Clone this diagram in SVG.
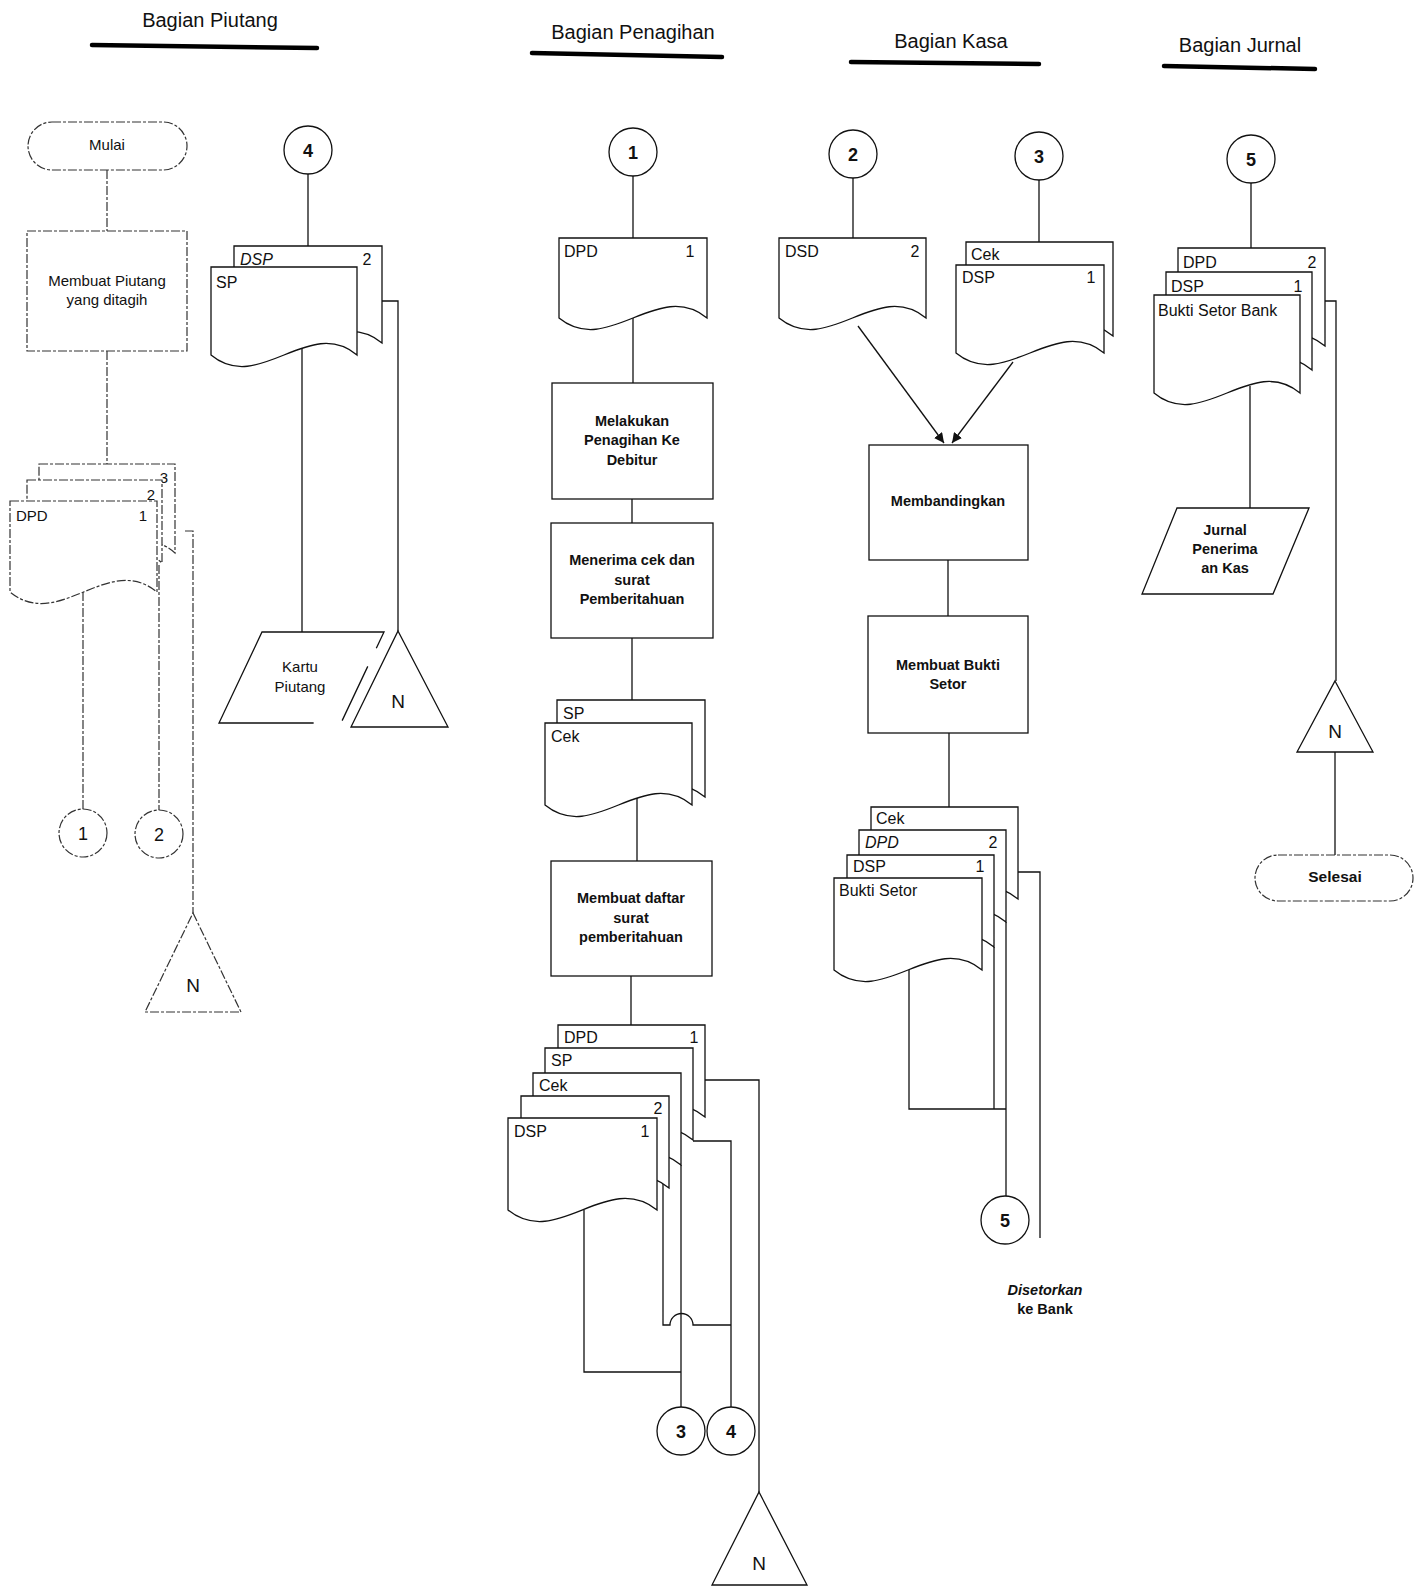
<svg xmlns="http://www.w3.org/2000/svg" width="1423" height="1591" viewBox="0 0 1423 1591">
<style>
.s{fill:#fff;stroke:#111;stroke-width:1.3}
.f{fill:#fff;stroke:#333;stroke-width:1.2;stroke-dasharray:9 2 3 2}
.c{fill:none;stroke:#111;stroke-width:1.3}
.cf{fill:none;stroke:#333;stroke-width:1.2;stroke-dasharray:9 2 3 2}
.h{fill:none;stroke:#000;stroke-width:4.5;stroke-linecap:round}
text{font-family:"Liberation Sans",Arial,sans-serif;fill:#111}
.t{font-size:20px}
.l{font-size:16px}
.b{font-size:14.5px;font-weight:bold;text-anchor:middle}
.r{font-size:15px;text-anchor:middle}
.n{font-size:18px;font-weight:bold;text-anchor:middle}
.m{text-anchor:middle}
</style>
<defs>
<marker id="ah" viewBox="0 0 10 10" refX="10" refY="5" markerWidth="10" markerHeight="10" markerUnits="userSpaceOnUse" orient="auto">
<path d="M0,0 L10,5 L0,10 Z" fill="#111"/>
</marker>
</defs>

<g id="headers">
<text class="t m" x="210" y="27">Bagian Piutang</text>
<path class="h" d="M92,45 L317,48"/>
<text class="t m" x="633" y="39">Bagian Penagihan</text>
<path class="h" d="M532,53 L722,57"/>
<text class="t m" x="951" y="48">Bagian Kasa</text>
<path class="h" d="M851,62 L1039,64"/>
<text class="t m" x="1240" y="52">Bagian Jurnal</text>
<path class="h" d="M1164,66 L1315,69"/>
</g>

<g id="connectors">
<!-- column 1 -->
<path class="cf" d="M107,170 V231"/>
<path class="cf" d="M107,351 V464"/>
<path class="cf" d="M83,592 V809"/>
<path class="cf" d="M159,565 V810"/>
<path class="cf" d="M185,531 H193 V913"/>
<path class="c" d="M308,174 V246"/>
<path class="c" d="M302,348 V632"/>
<path class="c" d="M382,301 H398 V631"/>
<!-- column 2 -->
<path class="c" d="M633,176 V238"/>
<path class="c" d="M633,318 V383"/>
<path class="c" d="M632,499 V523"/>
<path class="c" d="M632,638 V700"/>
<path class="c" d="M637,798 V861"/>
<path class="c" d="M631,976 V1025"/>
<path class="c" d="M705,1080 H759 V1492"/>
<path class="c" d="M693,1141 H731 V1407"/>
<path class="c" d="M681,1165 V1407"/>
<path class="c" d="M663,1184 V1325 H670 A11.5,11.5 0 0 1 693,1325 H731"/>
<path class="c" d="M584,1210 V1372 H681"/>
<!-- column 3 -->
<path class="c" d="M853,178 V238"/>
<path class="c" d="M1039,180 V242"/>
<path class="c" d="M858,326 L944,443" marker-end="url(#ah)"/>
<path class="c" d="M1013,362 L952,443" marker-end="url(#ah)"/>
<path class="c" d="M948,560 V616"/>
<path class="c" d="M949,733 V807"/>
<path class="c" d="M1018,872 H1040 V1238"/>
<path class="c" d="M1006,922 V1196"/>
<path class="c" d="M994,947 V1109"/>
<path class="c" d="M909,970 V1109 H1006"/>
<!-- column 4 -->
<path class="c" d="M1251,183 V248"/>
<path class="c" d="M1325,301 H1336 V681"/>
<path class="c" d="M1250,386 V508"/>
<path class="c" d="M1335,752 V855"/>
</g>

<g id="mulai">
<rect class="f" x="28" y="122" width="159" height="48" rx="24"/>
<text class="r" x="107" y="150">Mulai</text>
</g>
<g id="membuat-piutang">
<rect class="f" x="27" y="231" width="160" height="120"/>
<text class="r" x="107" y="286">Membuat Piutang</text>
<text class="r" x="107" y="305">yang ditagih</text>
</g>
<g id="dpd-stack-piutang">
<path class="f" d="M39,464 H175 V553 C130,513 84,593 39,553 Z"/>
<text class="r" x="164" y="483">3</text>
<path class="f" d="M27,480 H162 V563 C117,523 72,603 27,563 Z"/>
<text class="r" x="151" y="500">2</text>
<path class="f" d="M10,501 H157 V592 C108,552 59,632 10,592 Z"/>
<text style="font-size:15px" x="16" y="521">DPD</text>
<text class="r" x="143" y="521">1</text>
</g>
<g id="off-1a">
<ellipse class="f" cx="83" cy="833" rx="24" ry="24"/>
<text class="r" style="font-size:18px" x="83" y="840">1</text>
</g>
<g id="off-2a">
<ellipse class="f" cx="159" cy="834" rx="24" ry="24"/>
<text class="r" style="font-size:18px" x="159" y="841">2</text>
</g>
<g id="n-piutang-1">
<path class="f" d="M193,913 L241,1012 H145 Z"/>
<text class="r" style="font-size:19px" x="193" y="992">N</text>
</g>

<g id="off-4a">
<ellipse class="s" cx="308" cy="150" rx="24" ry="24"/>
<text class="n" x="308" y="157">4</text>
</g>
<g id="dsp-sp-stack">
<path class="s" d="M234,246 H382 V343 C333,303 283,383 234,343 Z"/>
<text class="l" style="font-style:italic" x="240" y="265">DSP</text>
<text class="l m" x="367" y="265">2</text>
<path class="s" d="M211,267 H357 V355 C309,315 259,395 211,355 Z"/>
<text class="l" x="216" y="288">SP</text>
</g>
<g id="kartu-piutang">
<path class="s" d="M262,632 H384 L341,723 H219 Z" style="stroke-dasharray:140 20 60 30 200"/>
<text class="r" x="300" y="672">Kartu</text>
<text class="r" x="300" y="692">Piutang</text>
</g>
<g id="n-piutang-2">
<path class="s" d="M398,631 L448,727 H351 Z"/>
<text class="r" style="font-size:19px" x="398" y="708">N</text>
</g>

<g id="off-1b">
<ellipse class="s" cx="633" cy="152" rx="24" ry="24"/>
<text class="n" x="633" y="159">1</text>
</g>
<g id="dpd-penagihan">
<path class="s" d="M559,238 H707 V318 C658,278 608,358 559,318 Z"/>
<text class="l" x="564" y="257">DPD</text>
<text class="l m" x="690" y="257">1</text>
</g>
<g id="melakukan-penagihan">
<rect class="s" x="552" y="383" width="161" height="116"/>
<text class="b" x="632" y="426">Melakukan</text>
<text class="b" x="632" y="445">Penagihan Ke</text>
<text class="b" x="632" y="465">Debitur</text>
</g>
<g id="menerima-cek">
<rect class="s" x="551" y="523" width="162" height="115"/>
<text class="b" x="632" y="565">Menerima cek dan</text>
<text class="b" x="632" y="585">surat</text>
<text class="b" x="632" y="604">Pemberitahuan</text>
</g>
<g id="sp-cek-stack">
<path class="s" d="M557,700 H705 V797 C656,757 606,837 557,797 Z"/>
<text class="l" x="563" y="719">SP</text>
<path class="s" d="M545,723 H692 V805 C643,765 594,845 545,805 Z"/>
<text class="l" x="551" y="742">Cek</text>
</g>
<g id="membuat-daftar">
<rect class="s" x="551" y="861" width="161" height="115"/>
<text class="b" x="631" y="903">Membuat daftar</text>
<text class="b" x="631" y="923">surat</text>
<text class="b" x="631" y="942">pemberitahuan</text>
</g>
<g id="five-stack">
<path class="s" d="M558,1025 H705 V1117 C656,1077 607,1157 558,1117 Z"/>
<text class="l" x="564" y="1043">DPD</text>
<text class="l m" x="694" y="1043">1</text>
<path class="s" d="M545,1048 H693 V1140 C644,1100 594,1180 545,1140 Z"/>
<text class="l" x="551" y="1066">SP</text>
<path class="s" d="M533,1073 H681 V1165 C632,1125 582,1205 533,1165 Z"/>
<text class="l" x="539" y="1091">Cek</text>
<path class="s" d="M521,1096 H669 V1188 C620,1148 570,1228 521,1188 Z"/>
<text class="l m" x="658" y="1114">2</text>
<path class="s" d="M508,1118 H657 V1210 C607,1170 557,1250 508,1210 Z"/>
<text class="l" x="514" y="1137">DSP</text>
<text class="l m" x="645" y="1137">1</text>
</g>
<g id="off-3a">
<ellipse class="s" cx="681" cy="1431" rx="24" ry="24"/>
<text class="n" x="681" y="1438">3</text>
</g>
<g id="off-4b">
<ellipse class="s" cx="731" cy="1431" rx="24" ry="24"/>
<text class="n" x="731" y="1438">4</text>
</g>
<g id="n-penagihan">
<path class="s" d="M759,1492 L807,1585 H712 Z"/>
<text class="r" style="font-size:19px" x="759" y="1570">N</text>
</g>

<g id="off-2b">
<ellipse class="s" cx="853" cy="154" rx="24" ry="24"/>
<text class="n" x="853" y="161">2</text>
</g>
<g id="off-3b">
<ellipse class="s" cx="1039" cy="156" rx="24" ry="24"/>
<text class="n" x="1039" y="163">3</text>
</g>
<g id="dsd-kasa">
<path class="s" d="M779,238 H926 V318 C877,278 828,358 779,318 Z"/>
<text class="l" x="785" y="257">DSD</text>
<text class="l m" x="915" y="257">2</text>
</g>
<g id="cek-dsp-kasa">
<path class="s" d="M966,242 H1113 V336 C1064,296 1015,376 966,336 Z"/>
<text class="l" x="971" y="260">Cek</text>
<path class="s" d="M956,265 H1104 V353 C1055,313 1005,393 956,353 Z"/>
<text class="l" x="962" y="283">DSP</text>
<text class="l m" x="1091" y="283">1</text>
</g>
<g id="membandingkan">
<rect class="s" x="869" y="445" width="159" height="115"/>
<text class="b" x="948" y="506">Membandingkan</text>
</g>
<g id="membuat-bukti-setor">
<rect class="s" x="868" y="616" width="160" height="117"/>
<text class="b" x="948" y="670">Membuat Bukti</text>
<text class="b" x="948" y="689">Setor</text>
</g>
<g id="kasa-stack">
<path class="s" d="M871,807 H1018 V899 C969,859 920,939 871,899 Z"/>
<text class="l" x="876" y="824">Cek</text>
<path class="s" d="M859,830 H1006 V922 C957,882 908,962 859,922 Z"/>
<text class="l" style="font-style:italic" x="865" y="848">DPD</text>
<text class="l m" x="993" y="848">2</text>
<path class="s" d="M847,855 H994 V947 C945,907 896,987 847,947 Z"/>
<text class="l" x="853" y="872">DSP</text>
<text class="l m" x="980" y="872">1</text>
<path class="s" d="M834,878 H982 V970 C933,930 883,1010 834,970 Z"/>
<text class="l" x="839" y="896">Bukti Setor</text>
</g>
<g id="off-5a">
<ellipse class="s" cx="1005" cy="1220" rx="24" ry="24"/>
<text class="n" x="1005" y="1227">5</text>
</g>
<g id="disetorkan">
<text class="b" style="font-style:italic" x="1045" y="1295">Disetorkan</text>
<text class="b" x="1045" y="1314">ke Bank</text>
</g>

<g id="off-5b">
<ellipse class="s" cx="1251" cy="159" rx="24" ry="24"/>
<text class="n" x="1251" y="166">5</text>
</g>
<g id="jurnal-stack">
<path class="s" d="M1178,248 H1325 V346 C1276,306 1227,386 1178,346 Z"/>
<text class="l" x="1183" y="268">DPD</text>
<text class="l m" x="1312" y="268">2</text>
<path class="s" d="M1166,272 H1312 V370 C1264,330 1214,410 1166,370 Z"/>
<text class="l" x="1171" y="292">DSP</text>
<text class="l m" x="1298" y="292">1</text>
<path class="s" d="M1154,295 H1300 V393 C1252,353 1202,433 1154,393 Z"/>
<text class="l" x="1158" y="316">Bukti Setor Bank</text>
</g>
<g id="jurnal-penerimaan-kas">
<path class="s" d="M1177,508 H1309 L1273,594 H1142 Z"/>
<text class="b" x="1225" y="535">Jurnal</text>
<text class="b" x="1225" y="554">Penerima</text>
<text class="b" x="1225" y="573">an Kas</text>
</g>
<g id="n-jurnal">
<path class="s" d="M1335,681 L1373,752 H1297 Z"/>
<text class="r" style="font-size:19px" x="1335" y="738">N</text>
</g>
<g id="selesai">
<rect class="f" x="1255" y="855" width="158" height="46" rx="23"/>
<text class="b" style="font-size:15.5px" x="1335" y="882">Selesai</text>
</g>
</svg>
